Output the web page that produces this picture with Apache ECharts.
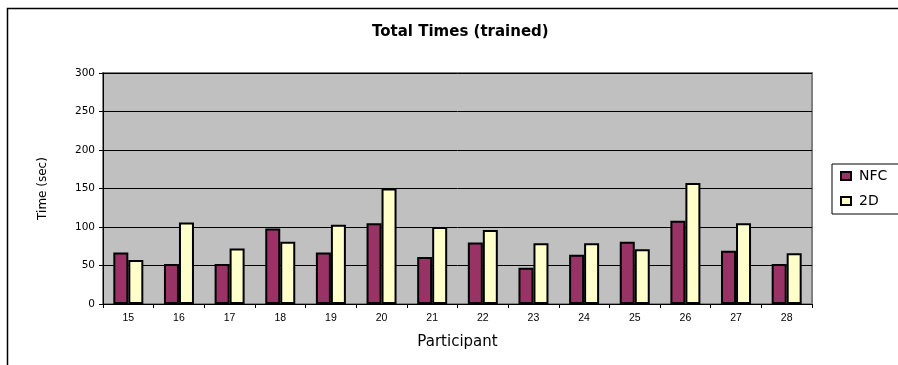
<!DOCTYPE html>
<html>
<head>
<meta charset="utf-8">
<script src="https://cdn.jsdelivr.net/npm/echarts@6/dist/echarts.min.js"></script>
<style>
  html, body { margin: 0; padding: 0; background: #fff; }
  #chart { width: 898px; height: 365px; }
</style>
</head>
<body>
<div id="chart"></div>
<script>
// participants on the x axis
const participants = ['15', '16', '17', '18', '19', '20', '21', '22', '23', '24', '25', '26', '27', '28']
// total times in seconds
const nfcTimes = [67, 52, 52, 98, 67, 105, 61, 80, 47, 64, 81, 108, 69, 52]
const twoDTimes = [57, 106, 72, 81, 103, 150, 100, 96, 79, 79, 71, 157, 105, 66]

const font = 'Liberation Sans, Arial, sans-serif'
const wideFont = 'DejaVu Sans, sans-serif'

const option = {
    animation: false,
    backgroundColor: '#fff',
    title: {
      text: 'Total Times (trained)',
      left: 367,
      top: 20,
      textStyle: { fontFamily: wideFont, fontSize: 15, fontWeight: 'bold', color: '#000' }
    },
    legend: {
      orient: 'vertical',
      left: 832,
      top: 164,
      backgroundColor: '#fff',
      borderColor: '#000',
      borderWidth: 1,
      padding: [5, 20, 6, 8],
      itemGap: 11,
      itemWidth: 10,
      itemHeight: 8,
      icon: 'rect',
      textStyle: { fontFamily: wideFont, fontSize: 14, color: '#000', padding: [0, 0, 0, 3] },
      data: ['NFC', '2D']
    },
    graphic: [
      {
        type: 'rect',
        shape: { x: 7.5, y: 8.5, width: 1000, height: 1000 },
        style: { fill: 'none', stroke: '#000', lineWidth: 1.5 },
        silent: true
      }
    ],
    grid: {
      left: 103,
      top: 73,
      right: 86,
      bottom: 61,
      show: true,
      backgroundColor: '#C0C0C0',
      borderColor: '#808080',
      borderWidth: 2
    },
    xAxis: {
      type: 'category',
      data: participants,
      name: 'Participant',
      nameLocation: 'middle',
      nameGap: 31,
      nameTextStyle: { fontFamily: wideFont, fontSize: 15, color: '#000' },
      axisLine: { lineStyle: { color: '#000', width: 1 } },
      axisTick: { show: true, interval: 0, length: 4, lineStyle: { color: '#000' } },
      axisLabel: { fontFamily: font, fontSize: 10.5, color: '#000', margin: 9 }
    },
    yAxis: {
      type: 'value',
      min: 0,
      max: 300,
      interval: 50,
      name: 'Time (sec)',
      nameLocation: 'middle',
      nameGap: 54,
      nameTextStyle: { fontFamily: wideFont, fontSize: 12, color: '#000' },
      axisLine: { show: true, lineStyle: { color: '#000', width: 1 } },
      axisTick: { show: true, length: 4, lineStyle: { color: '#000' } },
      axisLabel: { fontFamily: wideFont, fontSize: 10.5, color: '#000', margin: 8 },
      splitLine: { show: true, lineStyle: { color: '#000', width: 1 } }
    },
    series: [
      {
        name: 'NFC',
        type: 'bar',
        data: nfcTimes,
        barWidth: 15,
        barGap: '0%',
        itemStyle: { color: '#993366', borderColor: '#000', borderWidth: 2 }
      },
      {
        name: '2D',
        type: 'bar',
        data: twoDTimes,
        barWidth: 15,
        barGap: '0%',
        itemStyle: { color: '#FFFFCC', borderColor: '#000', borderWidth: 2 }
      }
    ]
}

const myChart = echarts.init(document.getElementById('chart'))
myChart.setOption(option)
</script>
</body>
</html>
